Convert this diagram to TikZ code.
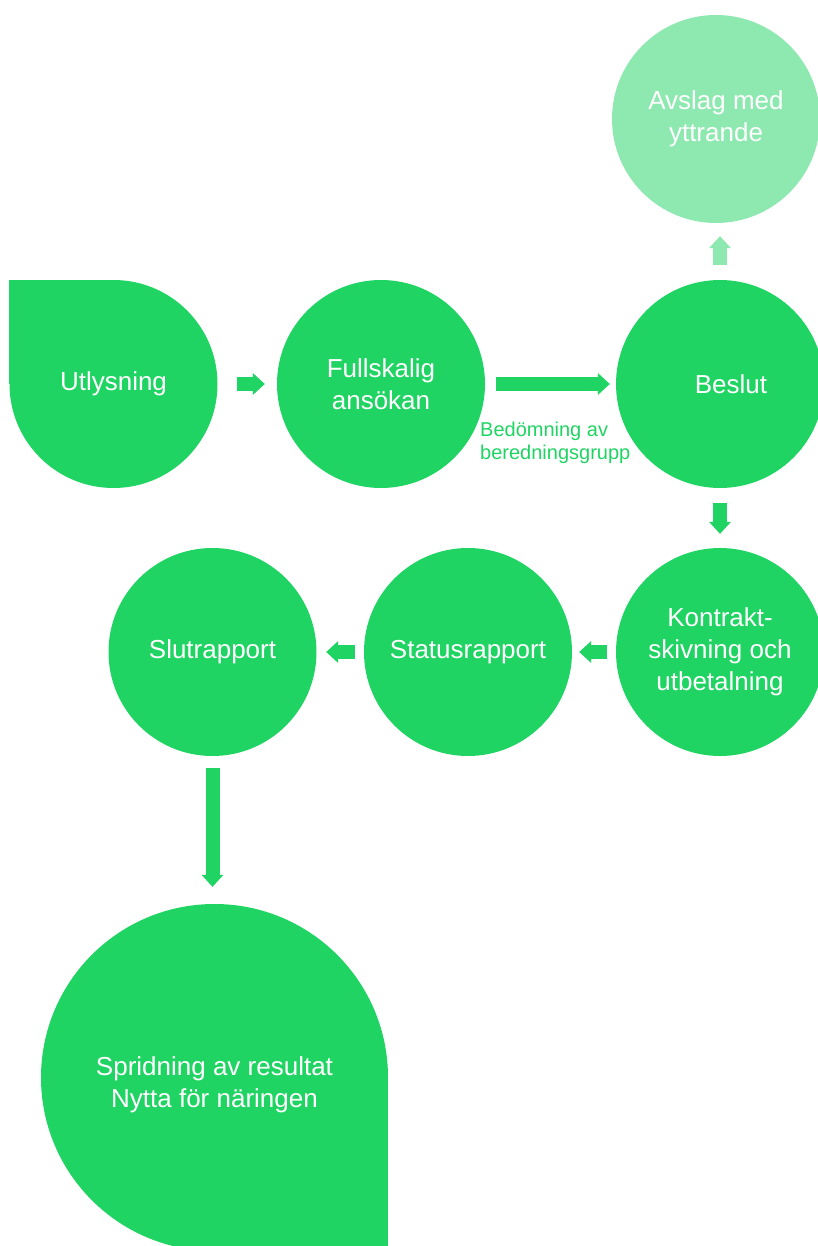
\documentclass[tikz,border=0pt]{standalone}
\usepackage{fontspec}
\setmainfont{Liberation Sans}
\usetikzlibrary{arrows.meta, backgrounds}
\definecolor{stagegreen}{RGB}{31, 212, 98}
\definecolor{palegreen}{RGB}{142, 233, 176}

\begin{document}
\begin{tikzpicture}[
    x=1pt, y=-1pt, % pixel-like grid, y downwards
    stage/.style={circle, fill=stagegreen, minimum size=208pt, inner sep=0pt, align=center, text=white, font=\fontsize{26}{32}\selectfont},
    flow/.style={-{Triangle[length=12pt, width=22pt, line width=0pt]}, line width=14pt, draw=stagegreen},
]
\useasboundingbox (0,0) rectangle (818,1246);

% Top row
\node[stage] (utl) at (113.5,384) {\raisebox{-3pt}{Utlysning}};
\node[stage] (full) at (381,384) {Fullskalig\\ansökan};
\node[stage] (bes) at (720,384) {\hspace*{22pt}Beslut};
\node[stage, fill=palegreen] (avs) at (716,119) {Avslag med\\yttrande};

% Second row
\node[stage] (kon) at (720,652) {Kontrakt-\\skivning och\\utbetalning};
\node[stage] (sta) at (468,652) {Statusrapport};
\node[stage] (slu) at (212.5,652) {Slutrapport};

% Result
\node[stage, minimum size=347pt, label={[align=center, text=white, font=\fontsize{26}{32}\selectfont, yshift=-7pt]center:Spridning av resultat\\Nytta för näringen}] (spr) at (214.5,1077.5) {};

% Square corners of the drops
\begin{scope}[on background layer]
\fill[stagegreen] (utl.west) rectangle (utl.north);
\fill[stagegreen] (spr.east) rectangle (spr.south);
\end{scope}

\node[font=\fontsize{20}{22.5}\selectfont, text=stagegreen, align=left, anchor=west, inner sep=0pt] (bedlab) at (480,443) {Bedömning av\\beredningsgrupp};

% Flow
\draw[flow, shorten <=19pt, shorten >=12pt] (utl) -- (full);
\draw[flow, shorten <=11pt, shorten >=6pt] (full) -- (bes);
\draw[flow, draw=palegreen, shorten <=15pt, shorten >=13pt] (bes.north) -- (bes.north |- avs.south);
\draw[flow, shorten <=15pt, shorten >=14pt] (bes) -- (kon);
\draw[flow, shorten <=9pt, shorten >=7pt] (kon) -- (sta);
\draw[flow, shorten <=9pt, shorten >=9.5pt] (sta) -- (slu);
\draw[flow, shorten <=12pt, shorten >=17pt] (slu.south) -- (slu.south |- spr.north);

\end{tikzpicture}
\end{document}
